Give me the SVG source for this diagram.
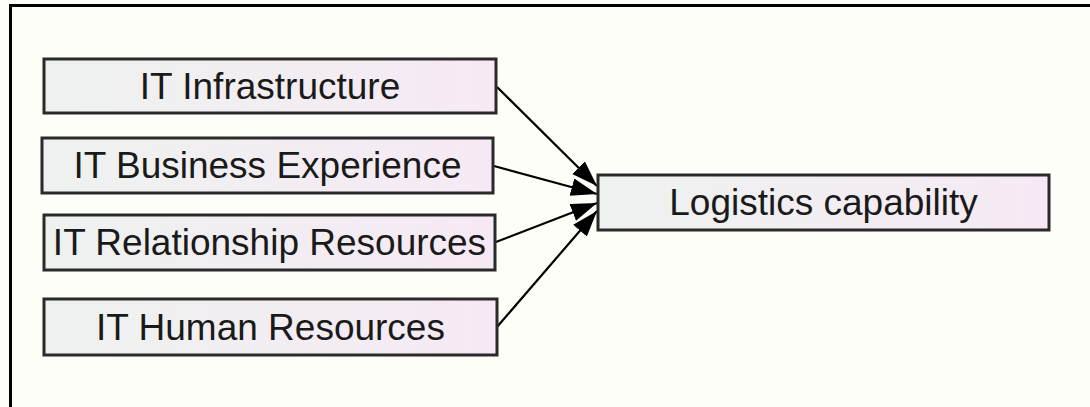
<svg xmlns="http://www.w3.org/2000/svg" width="1090" height="407" viewBox="0 0 1090 407">
<defs>
<linearGradient id="boxfill" x1="0" y1="0" x2="1" y2="0">
<stop offset="0" stop-color="#eef2ef"/>
<stop offset="1" stop-color="#f6e9f5"/>
</linearGradient>
<marker id="arrow" markerUnits="userSpaceOnUse" markerWidth="28" markerHeight="20" refX="26" refY="9" orient="auto">
<path d="M0,0 L26,9 L0,18 Z" fill="#000"/>
</marker>
<style>
.box{fill:url(#boxfill);stroke:#2a2a2a;stroke-width:3}
.lbl{font-family:"Liberation Sans",Arial,sans-serif;font-size:37px;fill:#1a1a1a;text-anchor:middle}
.edge{stroke:#000;stroke-width:2.2;fill:none;marker-end:url(#arrow)}
</style>
</defs>
<rect x="0" y="0" width="1090" height="407" fill="#fdfef8"/>
<path d="M10.5,407 V5.5 H1090" fill="none" stroke="#000" stroke-width="3"/>
<g id="connectors">
<line class="edge" x1="497" y1="87" x2="597" y2="186"/>
<line class="edge" x1="494" y1="166" x2="597" y2="194"/>
<line class="edge" x1="496" y1="242" x2="597" y2="203"/>
<line class="edge" x1="497" y1="327" x2="597" y2="211"/>
</g>
<g id="n1"><rect class="box" x="44" y="59" width="452" height="54"/><text class="lbl" x="270" y="98.5">IT Infrastructure</text></g>
<g id="n2"><rect class="box" x="42" y="138" width="451" height="55"/><text class="lbl" x="267.5" y="178">IT Business Experience</text></g>
<g id="n3"><rect class="box" x="44" y="215" width="451" height="55"/><text class="lbl" x="269.5" y="255">IT Relationship Resources</text></g>
<g id="n4"><rect class="box" x="44" y="299" width="453" height="56"/><text class="lbl" x="270.5" y="339.5">IT Human Resources</text></g>
<g id="n5"><rect class="box" x="598" y="175" width="451" height="55"/><text class="lbl" x="823.5" y="214.5">Logistics capability</text></g>
</svg>
